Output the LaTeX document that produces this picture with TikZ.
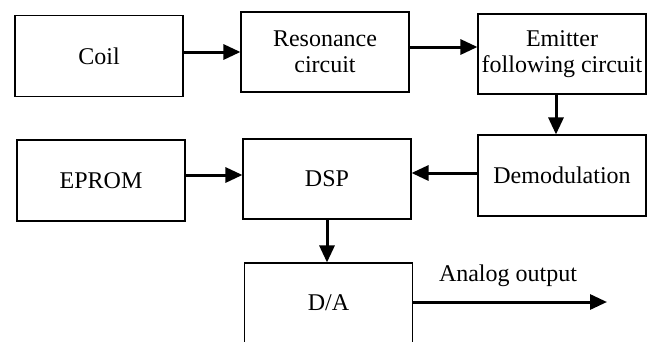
\documentclass[tikz,border=0pt]{standalone}
\usepackage{fontspec}
\setmainfont{Liberation Serif}
\usetikzlibrary{arrows.meta,calc}
\begin{document}
\begin{tikzpicture}[x=1pt,y=-1pt,
  blockbox/.style={draw=black,line width=1.1pt,inner sep=0pt,align=center,
    font=\fontsize{24}{26}\selectfont},
  arr/.style={line width=3pt,-{Triangle[length=17pt,width=15pt]}},
  lbl/.style={font=\fontsize{24}{26}\selectfont,inner sep=0pt}]
\useasboundingbox (0,0) rectangle (654,341);
\clip (0,0) rectangle (654,341);
\fill[white] (0,0) rectangle (654,341);
\node[blockbox,minimum width=168pt,minimum height=81pt] (coil) at (99,56) {Coil};
\node[blockbox,minimum width=168pt,minimum height=80pt] (res) at (325,52) {Resonance\\circuit};
\node[blockbox,minimum width=168pt,minimum height=80pt] (emit) at (562,54) {Emitter\\following circuit};
\node[blockbox,minimum width=168pt,minimum height=81pt] (demod) at (562,175.5) {Demodulation};
\node[blockbox,minimum width=168pt,minimum height=80pt] (dsp) at (327,179) {DSP};
\node[blockbox,minimum width=168pt,minimum height=81pt] (eprom) at (101,180.5) {EPROM};
\node[blockbox,minimum width=168pt,minimum height=80pt] (da) at (328.5,303) {D/A};
\node[lbl] (alabel) at (508,276) {Analog output};
\coordinate (out) at (607,302);
\draw[arr] (coil.east |- res.west) -- (res.west);
\draw[arr] ([yshift=5pt]res.east) -- ([yshift=5pt]res.east -| emit.west);
\draw[arr] ([xshift=-6pt]emit.south) -- ([xshift=-6pt]emit.south |- demod.north);
\draw[arr] ([yshift=2.5pt]demod.west) -- ([yshift=2.5pt]demod.west -| dsp.east);
\draw[arr] ([yshift=5.5pt]eprom.east) -- ([yshift=5.5pt]eprom.east -| dsp.west);
\draw[arr] (dsp.south) -- (dsp.south |- da.north);
\draw[arr] (da.east |- out) -- (out);
\end{tikzpicture}
\end{document}
